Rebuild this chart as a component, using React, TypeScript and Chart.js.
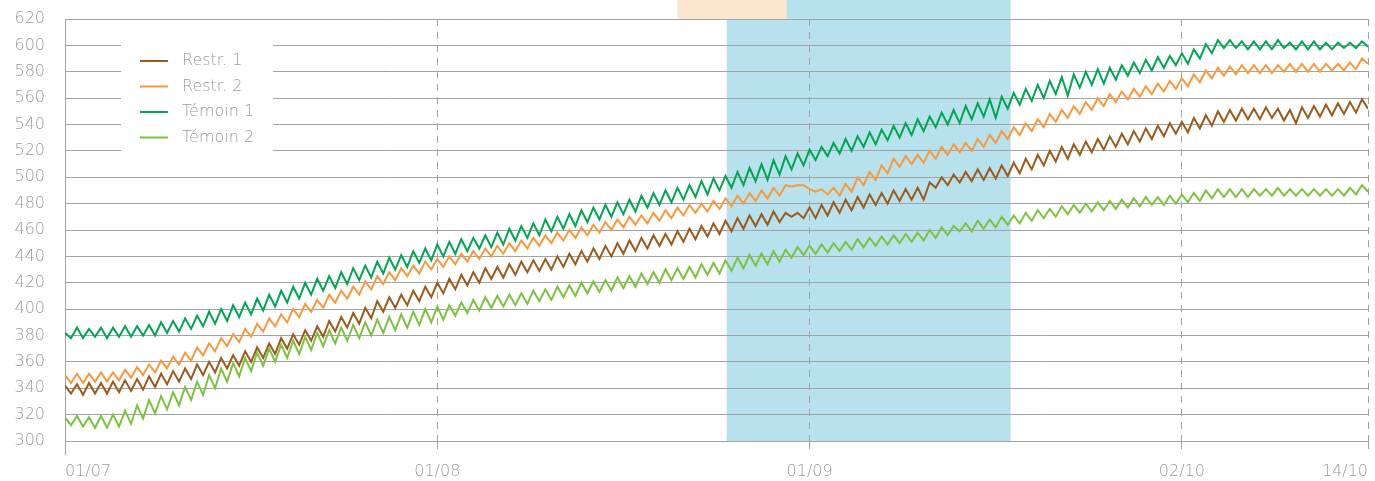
import React, { useEffect, useRef } from 'react';
import { Chart, registerables } from 'chart.js';

Chart.register(...registerables);

// Half-day samples (daily high / low), day 0 = 01/07
const restr1 = [
  342,336, 343,335, 344,336, 344,336, 345,337, 346,338, 347,339, 349,341, 351,343, 353,345,
  355,347, 358,350, 360,352, 363,355, 365,357, 368,360, 371,363, 374,366, 378,370, 381,373,
  384,376, 387,379, 391,383, 394,386, 397,389, 401,393, 406,398, 409,401, 411,403, 414,406,
  417,409, 420,412, 423,415, 426,418, 428,420, 431,423, 432,424, 434,426, 436,428, 437,429,
  438,430, 440,432, 442,434, 444,436, 446,438, 448,440, 450,442, 452,444, 454,446, 456,448,
  457,449, 459,451, 461,453, 463,455, 465,457, 467,459, 469,461, 471,463, 472,464, 474,466,
  473,470, 473,469, 477,469, 479,471, 481,473, 483,475, 485,477, 487,479, 488,480, 490,482,
  491,483, 492,483, 496,492, 500,494, 502,496, 504,497, 506,498, 507,499, 509,501, 511,503,
  514,506, 517,509, 520,512, 523,514, 525,517, 527,519, 529,521, 531,523, 533,525, 535,527,
  537,529, 539,531, 541,533, 542,534, 545,537, 547,539, 550,542, 551,543, 552,544, 552,544,
  553,545, 552,543, 551,541, 553,545, 554,546, 555,547, 556,548, 557,549, 559,552,
];

const restr2 = [
  350,344, 351,344, 351,345, 352,345, 352,346, 354,348, 356,350, 358,352, 361,355, 364,358,
  367,361, 371,365, 374,368, 378,372, 381,375, 385,379, 389,383, 393,387, 396,390, 400,394,
  404,398, 407,401, 411,405, 414,408, 417,411, 421,415, 425,419, 428,422, 431,425, 433,427,
  436,430, 438,432, 440,434, 442,436, 444,438, 446,440, 448,442, 450,444, 452,446, 454,448,
  456,450, 458,452, 460,454, 462,456, 464,458, 466,460, 468,462, 470,464, 471,465, 473,467,
  475,469, 477,471, 479,473, 480,474, 482,476, 484,478, 486,480, 488,482, 490,484, 492,486,
  494,493, 494,494, 491,489, 491,487, 492,486, 495,489, 500,494, 504,498, 509,503, 514,508,
  516,510, 517,511, 520,514, 523,517, 525,519, 526,520, 529,523, 532,526, 535,529, 538,532,
  541,535, 544,538, 548,542, 551,545, 554,548, 557,551, 560,554, 563,557, 565,559, 567,561,
  569,563, 571,565, 573,567, 575,569, 578,572, 581,575, 583,577, 584,578, 585,579, 585,579,
  585,579, 585,580, 586,580, 586,580, 586,580, 586,581, 586,581, 587,582, 590,586,
];

const temoin1 = [
  382,378, 386,378, 385,379, 386,378, 386,379, 387,379, 387,380, 388,380, 390,382, 391,383,
  393,385, 395,387, 398,389, 400,391, 403,394, 405,396, 408,399, 411,402, 414,405, 417,408,
  420,411, 423,414, 425,416, 428,419, 431,422, 433,424, 436,427, 439,430, 441,432, 444,435,
  446,437, 449,440, 451,442, 453,444, 454,446, 456,447, 458,449, 461,452, 463,454, 465,456,
  468,459, 470,461, 472,463, 475,466, 477,468, 479,470, 481,472, 483,474, 486,477, 488,479,
  490,481, 492,483, 494,485, 497,487, 499,490, 501,492, 504,494, 507,497, 510,498, 513,502,
  516,506, 518,509, 521,513, 523,516, 526,518, 529,520, 531,523, 534,525, 536,528, 539,530,
  541,532, 544,535, 546,538, 549,540, 551,541, 554,544, 556,546, 559,545, 561,552, 564,555,
  567,558, 570,560, 573,563, 576,562, 578,568, 580,570, 582,571, 583,574, 585,577, 587,579,
  589,581, 591,583, 592,585, 594,586, 597,590, 601,594, 604,598, 604,598, 603,597, 603,597,
  603,597, 604,598, 602,597, 603,597, 603,597, 602,597, 602,598, 602,598, 603,599,
];

const temoin2 = [
  318,312, 319,311, 318,310, 319,310, 320,311, 323,313, 327,317, 331,321, 334,324, 337,327,
  341,331, 345,335, 350,340, 355,345, 359,349, 363,353, 367,357, 370,360, 373,363, 376,366,
  379,369, 382,372, 384,374, 386,376, 388,378, 390,380, 392,382, 394,384, 396,386, 398,388,
  400,390, 402,392, 403,395, 405,397, 407,399, 409,401, 410,402, 411,403, 412,404, 414,406,
  415,407, 417,409, 418,410, 420,412, 421,413, 422,414, 424,416, 425,417, 427,419, 428,420,
  430,422, 431,423, 432,424, 434,426, 435,427, 437,429, 439,431, 441,433, 442,434, 444,436,
  445,439, 447,441, 448,442, 449,443, 450,444, 451,445, 453,447, 454,448, 455,449, 456,450,
  457,451, 458,452, 460,454, 462,456, 463,459, 465,459, 467,461, 468,462, 470,464, 471,465,
  473,467, 475,469, 476,470, 478,472, 479,473, 480,474, 481,475, 482,476, 483,477, 484,478,
  485,479, 485,479, 486,480, 487,481, 488,482, 490,484, 491,485, 491,485, 491,485, 491,486,
  491,486, 492,486, 491,486, 491,486, 491,486, 491,486, 491,486, 492,487, 494,489,
];

const seriesLabels = ['Restr. 1', 'Restr. 2', 'Témoin 1', 'Témoin 2'];
const seriesValues = [restr1, restr2, temoin1, temoin2];
const seriesColors = ['#9c5b1c', '#f8993d', '#00a651', '#7cc242'];

const stepDays = 0.5;
const xMaxDays = 108.5;
const xTickValues = [0, 31, 62, 93, 108.5];
const xTickLabels = ['01/07', '01/08', '01/09', '02/10', '14/10'];
const yMin = 300;
const yMax = 620;
const yStep = 20;

// shaded periods (in days from 01/07)
const blueBand = [55.1, 78.75];
const peachBand = [51, 60.1];

const GRID = '#a3a3a3';
const TEXT = '#9a9a9a';
const FONT = 'DejaVu Sans';

const bandsPlugin = {
  id: 'bands',
  beforeDraw(chart: any) {
    const { ctx, chartArea, scales } = chart;
    const x = scales.x;
    ctx.save();
    const b1 = x.getPixelForValue(blueBand[0]);
    const b2 = x.getPixelForValue(blueBand[1]);
    ctx.fillStyle = '#b7e1ed';
    ctx.fillRect(b1, 0, b2 - b1, chartArea.bottom);
    const p1 = x.getPixelForValue(peachBand[0]);
    const p2 = x.getPixelForValue(peachBand[1]);
    ctx.fillStyle = '#fde6d0';
    ctx.fillRect(p1, 0, p2 - p1, chartArea.top);
    ctx.restore();
  },
};

const boxLegendPlugin = {
  id: 'boxLegend',
  afterDraw(chart: any) {
    const { ctx } = chart;
    ctx.save();
    ctx.fillStyle = '#ffffff';
    ctx.fillRect(121, 36, 152, 122);
    ctx.font = `200 16px "${FONT}"`;
    ctx.textBaseline = 'middle';
    ctx.textAlign = 'left';
    chart.data.datasets.forEach((ds: any, i: number) => {
      const yy = 61 + i * 25.5;
      ctx.strokeStyle = ds.borderColor;
      ctx.lineWidth = 2;
      ctx.beginPath();
      ctx.moveTo(140, yy);
      ctx.lineTo(168, yy);
      ctx.stroke();
      ctx.fillStyle = TEXT;
      ctx.fillText(ds.label, 182, yy);
    });
    ctx.restore();
  },
};

export default function App() {
  const ref = useRef<HTMLCanvasElement>(null);

  useEffect(() => {
    if (!ref.current) return;
    const datasets = seriesLabels.map((label, i) => ({
      label,
      data: seriesValues[i].map((v, k) => ({ x: k * stepDays, y: v })),
      borderColor: seriesColors[i],
      backgroundColor: seriesColors[i],
      borderWidth: 2,
      pointRadius: 0,
      tension: 0,
      fill: false,
    }));
    const chart = new Chart(ref.current, {
      type: 'line',
      data: { datasets },
      plugins: [bandsPlugin, boxLegendPlugin],
      options: {
        animation: false,
        responsive: false,
        devicePixelRatio: 1,
        layout: { padding: { left: 0, top: 19, right: 7, bottom: 0 } },
        plugins: { legend: { display: false }, tooltip: { enabled: false } },
        scales: {
          x: {
            type: 'linear',
            min: 0,
            max: xMaxDays,
            afterBuildTicks: (s: any) => {
              s.ticks = xTickValues.map((v) => ({ value: v }));
            },
            afterFit: (s: any) => {
              s.height = 40;
            },
            ticks: {
              autoSkip: false,
              maxRotation: 0,
              align: 'inner',
              padding: 7,
              color: TEXT,
              font: { family: FONT, size: 16, weight: '200' as any },
              callback: (_v: any, i: number) => xTickLabels[i],
            },
            grid: {
              color: GRID,
              lineWidth: 1,
              tickLength: 14,
              tickColor: GRID,
              tickBorderDash: (c: any) => (c.index === 0 ? [] : [7, 6]),
            },
            border: { display: true, color: GRID, dash: [7, 6] },
          },
          y: {
            min: yMin,
            max: yMax,
            afterFit: (s: any) => {
              s.width = 65;
              s.paddingTop = 0;
              s.paddingBottom = 0;
            },
            ticks: {
              stepSize: yStep,
              padding: 20,
              color: TEXT,
              font: { family: FONT, size: 16, weight: '200' as any },
            },
            grid: { color: GRID, lineWidth: 1, drawTicks: false, tickLength: 0 },
            border: { display: true, color: GRID },
          },
        },
      },
    });
    return () => chart.destroy();
  }, []);

  return (
    <div style={{ position: 'absolute', left: 0, top: 0, width: 1375, height: 481 }}>
      <canvas ref={ref} width={1375} height={481} style={{ width: 1375, height: 481 }} />
    </div>
  );
}
